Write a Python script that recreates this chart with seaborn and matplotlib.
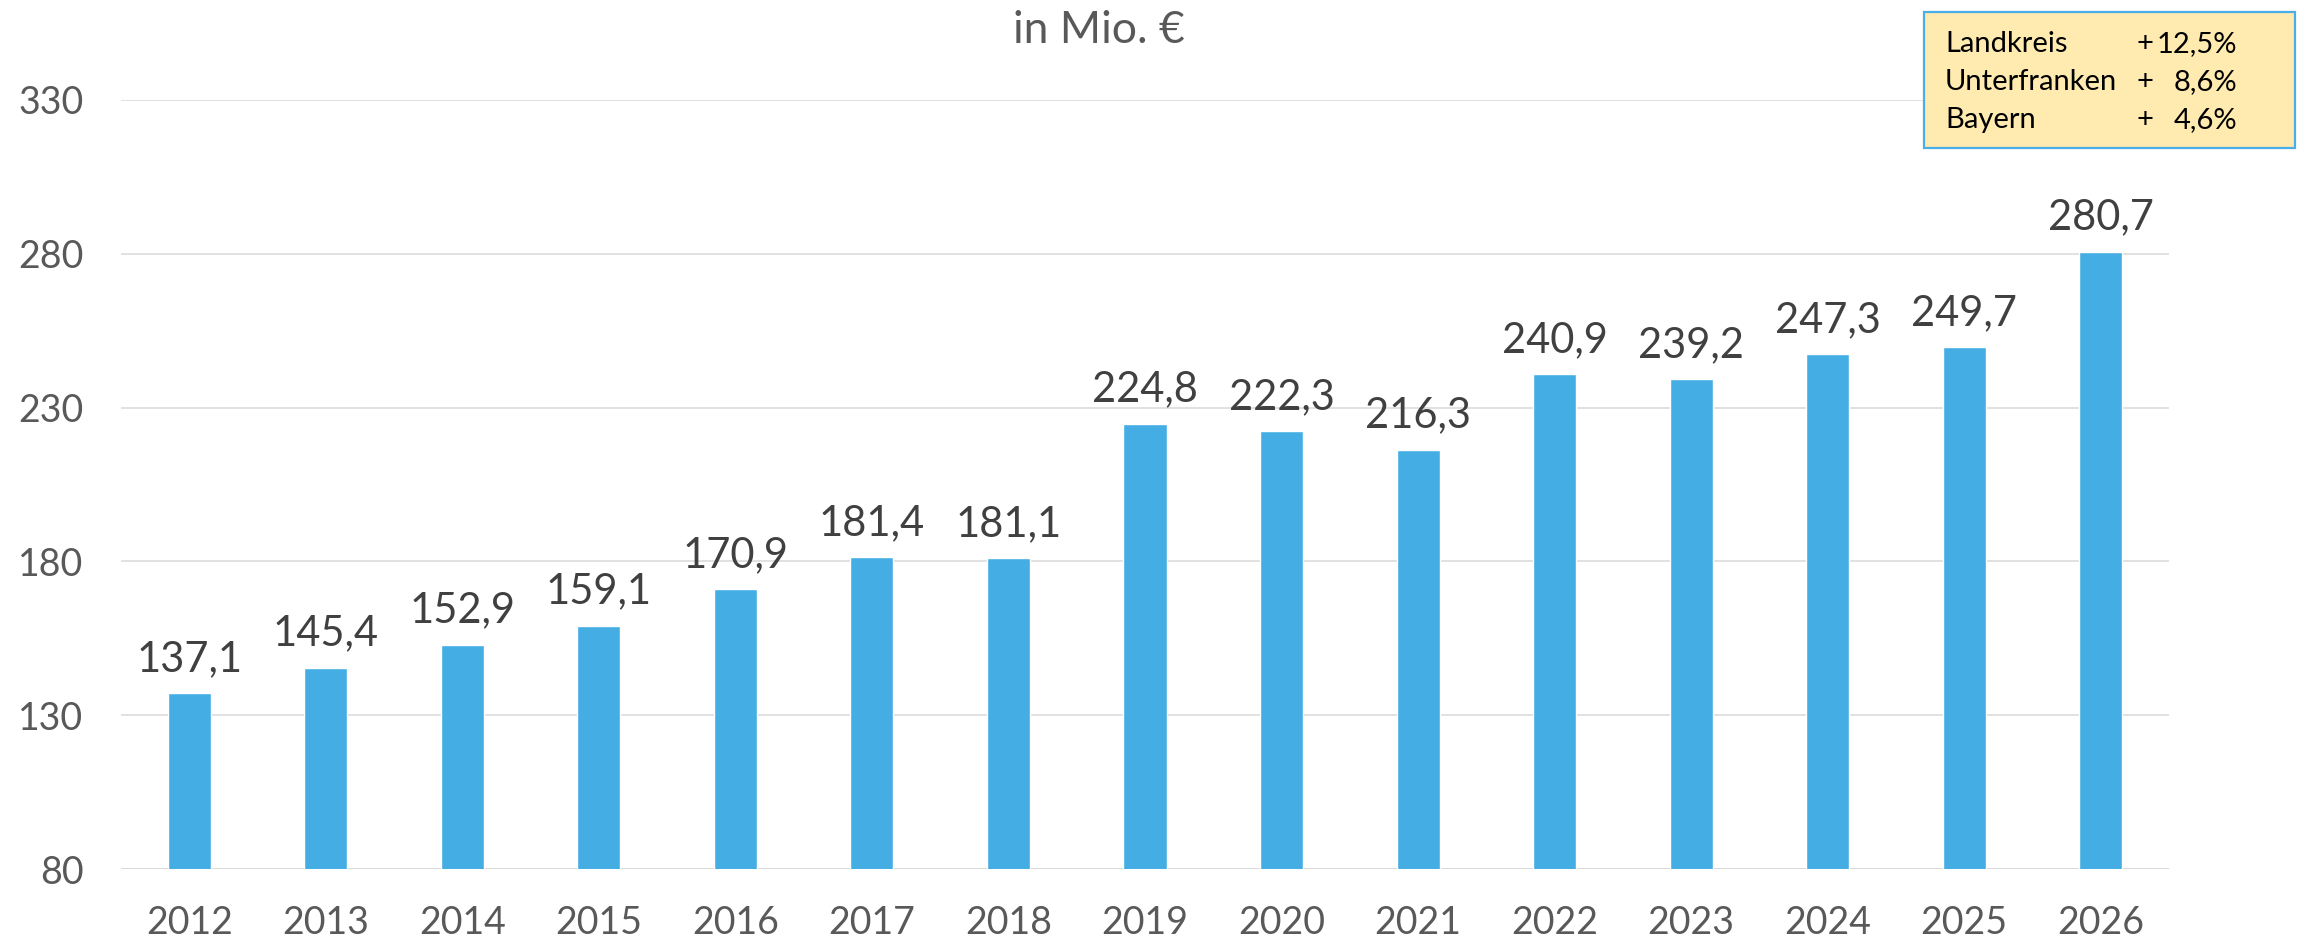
import matplotlib
matplotlib.use("Agg")
import matplotlib.pyplot as plt
import seaborn as sns
import pandas as pd
from matplotlib.patches import Rectangle

years = ["2012", "2013", "2014", "2015", "2016", "2017", "2018", "2019",
         "2020", "2021", "2022", "2023", "2024", "2025", "2026"]
values = [137.1, 145.4, 152.9, 159.1, 170.9, 181.4, 181.1, 224.8,
          222.3, 216.3, 240.9, 239.2, 247.3, 249.7, 280.7]
yticks = [80, 130, 180, 230, 280, 330]
title = "in Mio. €"
box_names = ["Landkreis", "Unterfranken", "Bayern"]
box_values = ["12,5%", "8,6%", "4,6%"]

sns.set_theme(style="white")
plt.rcParams["font.family"] = ["Lato", "DejaVu Sans"]

df = pd.DataFrame({"year": years, "value": values})

fig = plt.figure(figsize=(23.03, 9.42), dpi=100)
ax = fig.add_axes([121/2303, 1-869/942, (2169-121)/2303, (869-100)/942])

sns.barplot(data=df, x="year", y="value", color="#44AEE4", saturation=1,
            width=0.315, ax=ax, zorder=3)

ax.set_ylim(80, 330)
ax.set_xlim(-0.5, len(years) - 0.5)
ax.set_yticks(yticks)
ax.set_yticklabels([str(t) for t in yticks])
ax.yaxis.grid(True, color="#D9D9D9", linewidth=1.1, zorder=0)
ax.set_axisbelow(True)
for s in ["top", "right", "left", "bottom"]:
    ax.spines[s].set_visible(False)
ax.axhline(80, color="#D9D9D9", linewidth=1.3, zorder=1)
ax.set_xlabel("")
ax.set_ylabel("")
ax.tick_params(axis="x", length=0, pad=26, labelsize=27, labelcolor="#595959")
ax.tick_params(axis="y", length=0, pad=27, labelsize=27, labelcolor="#595959")

for c in ax.containers:
    ax.bar_label(c, labels=[f"{v:.1f}".replace(".", ",") for v in c.datavalues],
                 padding=11, fontsize=30, color="#404040")

fig.text(1099/2303, 1-43/942, title, ha="center", va="baseline",
         fontsize=32, color="#595959")

# annotation box
fig.patches.append(Rectangle((1924/2303, 1-148/942), (2295-1924)/2303, (148-12)/942,
                             transform=fig.transFigure, facecolor="#FFEAB0",
                             edgecolor="#4BAEE6", linewidth=1.6, zorder=5))
baselines = [52, 90, 128]
fs = 21
renderer = fig.canvas.get_renderer()
right_edge = None
for i, (name, val, yb) in enumerate(zip(box_names, box_values, baselines)):
    yy = 1 - yb/942
    fig.text(1945/2303, yy, name, ha="left", va="baseline", fontsize=fs, color="black", zorder=6)
    fig.text(2137/2303, yy, "+", ha="left", va="baseline", fontsize=fs, color="black", zorder=6)
    if right_edge is None:
        plus = fig.texts[-1]
        pb = plus.get_window_extent(renderer)
        t = fig.text(pb.x1 / fig.bbox.width + 0.001, yy, val, ha="left", va="baseline",
                     fontsize=fs, color="black", zorder=6)
        right_edge = t.get_window_extent(renderer).x1 / fig.bbox.width
    else:
        fig.text(right_edge, yy, val, ha="right", va="baseline", fontsize=fs, color="black", zorder=6)

fig.savefig("out.png", dpi=100)
